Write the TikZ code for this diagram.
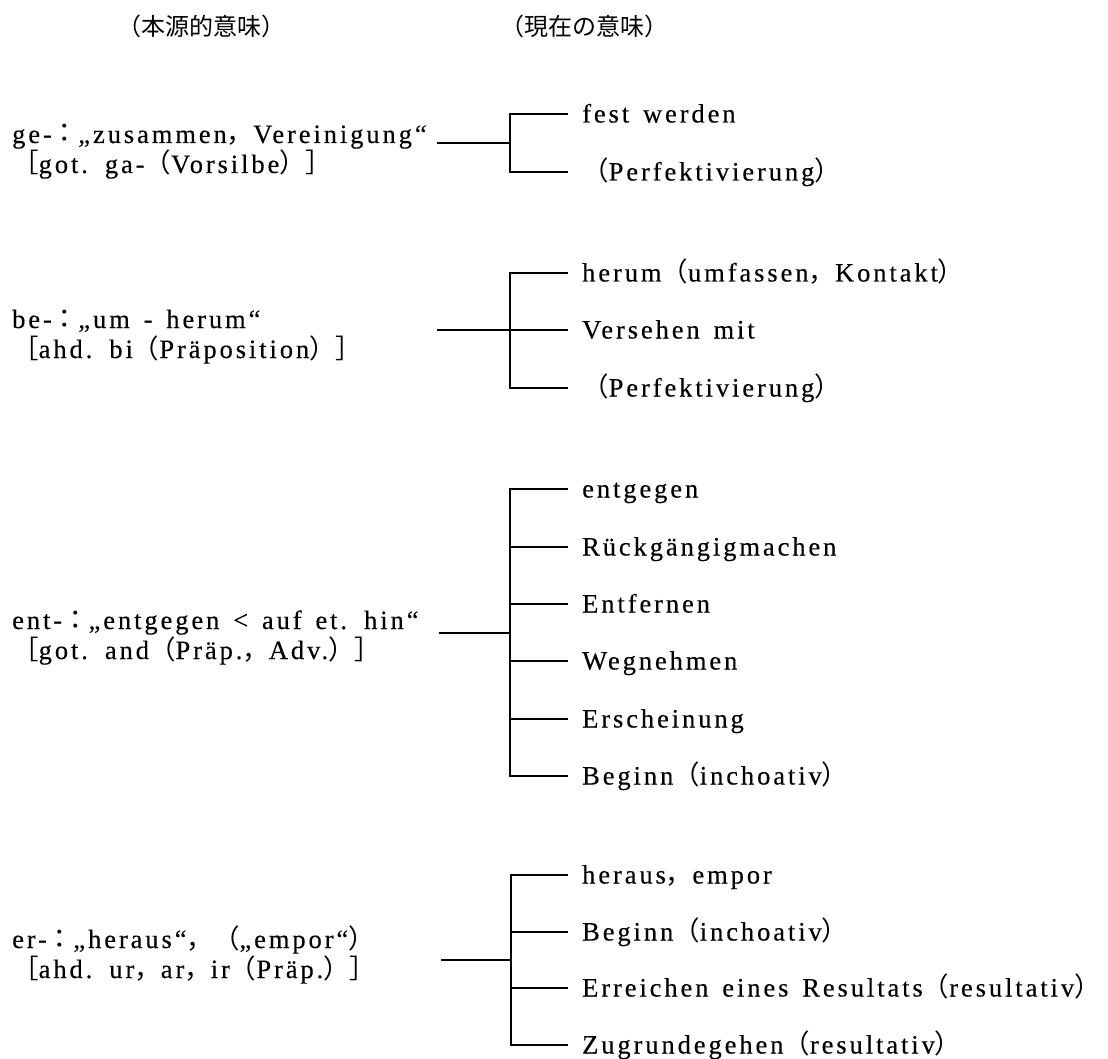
\documentclass[tikz,border=0pt]{standalone}
\usepackage{fontspec}
\setmainfont{Liberation Serif}[LetterSpace=11,WordSpace=1.45,FakeBold=0.3]
\newfontfamily\jpfont{Noto Sans CJK JP}
\newcommand\jlp{{\jpfont （}}
\newcommand\jrp{{\jpfont ）}}
\newcommand\jlb{{\jpfont ［}}
\newcommand\jrb{{\jpfont ］}}
\newcommand\jcm{{\jpfont ，}}
\newcommand\jcl{{\jpfont ：}}
\begin{document}
\begin{tikzpicture}[x=1pt,y=-1pt,
  lbl/.style={anchor=base west,inner sep=0pt,font=\fontsize{26.5}{30}\selectfont},
  item/.style={anchor=west,inner xsep=14pt,inner ysep=0pt,text height=17pt,text depth=0pt,font=\fontsize{26.5}{30}\selectfont},
  head/.style={anchor=center,inner sep=0pt,font=\jpfont\fontsize{24}{28}\selectfont},
  conn/.style={line width=1.8pt}]
\useasboundingbox (0,0) rectangle (1108,1059);
% headers
\node[head] (h1) at (201,26) {（本源的意味）};
\node[head] (h2) at (584,26) {（現在の意味）};
% ge-
\node[lbl] (ge1) at (12,143) {ge-\jcl„zusammen\jcm Vereinigung“};
\node[lbl] (ge2) at (12,173) {\jlb got. ga-\jlp Vorsilbe\jrp\jrb};
\coordinate (geS) at (437,143);
\coordinate (geJ) at (510,143);
\node[item] (geA1) at (568,114) {fest werden};
\node[item] (geA2) at (568,172) {\jlp Perfektivierung\jrp};
\draw[conn] (geS) -- (geJ);
\draw[conn] (geA1.west) -| (geJ) |- (geA2.west);
% be-
\node[lbl] (be1) at (12,328) {be-\jcl„um - herum“};
\node[lbl] (be2) at (12,358) {\jlb ahd. bi\jlp Präposition\jrp\jrb};
\coordinate (beS) at (437,330);
\node[item] (beA1) at (568,273) {herum\jlp umfassen\jcm Kontakt\jrp};
\node[item] (beA2) at (568,330) {Versehen mit};
\node[item] (beA3) at (568,388) {\jlp Perfektivierung\jrp};
\coordinate (beJ) at (510,330);
\draw[conn] (beS) -- (beA2.west);
\draw[conn] (beA1.west) -| (beJ) |- (beA3.west);
% ent-
\node[lbl] (ent1) at (12,629) {ent-\jcl„entgegen < auf et. hin“};
\node[lbl] (ent2) at (12,659) {\jlb got. and\jlp Präp.\jcm Adv.\jrp\jrb};
\coordinate (entS) at (439,633);
\coordinate (entJ) at (510,633);
\node[item] (entA1) at (568,489) {entgegen};
\node[item] (entA2) at (568,547) {Rückgängigmachen};
\node[item] (entA3) at (568,604) {Entfernen};
\node[item] (entA4) at (568,661) {Wegnehmen};
\node[item] (entA5) at (568,719) {Erscheinung};
\node[item] (entA6) at (568,776) {Beginn\jlp inchoativ\jrp};
\draw[conn] (entS) -- (entJ);
\draw[conn] (entA1.west) -| (entJ) |- (entA6.west);
\foreach \i in {2,3,4,5} \draw[conn] (entJ |- entA\i.west) -- (entA\i.west);
% er-
\node[lbl] (er1) at (12,948) {er-\jcl„heraus“\jcm\jlp„empor“\jrp};
\node[lbl] (er2) at (12,978) {\jlb ahd. ur\jcm ar\jcm ir\jlp Präp.\jrp\jrb};
\coordinate (erS) at (441,960);
\coordinate (erJ) at (511,960);
\node[item] (erA1) at (568,875) {heraus\jcm empor};
\node[item] (erA2) at (568,932) {Beginn\jlp inchoativ\jrp};
\node[item] (erA3) at (568,988) {Erreichen eines Resultats\jlp resultativ\jrp};
\node[item] (erA4) at (568,1045) {Zugrundegehen\jlp resultativ\jrp};
\draw[conn] (erS) -- (erJ);
\draw[conn] (erA1.west) -| (erJ) |- (erA4.west);
\foreach \i in {2,3} \draw[conn] (erJ |- erA\i.west) -- (erA\i.west);
\end{tikzpicture}
\end{document}
